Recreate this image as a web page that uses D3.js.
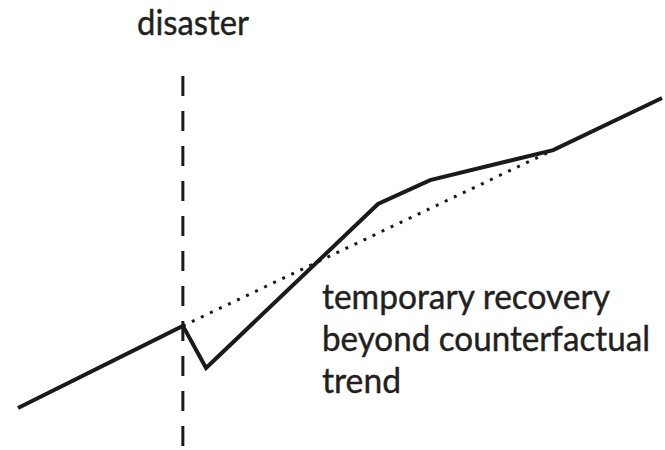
<!DOCTYPE html>
<html>
<head>
<meta charset="utf-8">
<script src="https://cdn.jsdelivr.net/npm/d3@7"></script>
<style>
  html, body { margin: 0; padding: 0; background: #fff; }
  svg { display: block; }
  text { font-family: Lato, "Open Sans", sans-serif; fill: #231f20; stroke: #231f20; stroke-width: 0.4px; }
</style>
</head>
<body>
<script>
// ---- data (abstract time / output units) ----
const actualTime   = [0, 25.6, 29.2, 55.9, 64.0, 83.1, 100];
const actualValue  = [0, 26.5, 12.9, 65.8, 73.5, 83.2, 100];
const trendTime    = [25.6, 83.1];
const trendValue   = [26.5, 83.2];
const disasterTime = 25.6;
const disasterLabel = ["disaster"];
const noteLines = ["temporary recovery", "beyond counterfactual", "trend"];

const W = 665, H = 450;
const svg = d3.select("body").append("svg").attr("width", W).attr("height", H);

const x = d3.scaleLinear().domain([0, 100]).range([18, 662]);
const y = d3.scaleLinear().domain([0, 100]).range([408, 98]);

const line = d3.line().x(d => x(d[0])).y(d => y(d[1]));

// vertical dashed disaster line
svg.append("line")
  .attr("x1", x(disasterTime)).attr("x2", x(disasterTime))
  .attr("y1", 76).attr("y2", H)
  .attr("stroke", "#1a1a1a").attr("stroke-width", 3)
  .attr("stroke-dasharray", "20,15");

// counterfactual trend (dotted)
svg.append("path")
  .attr("d", line(trendTime.map((t, i) => [t, trendValue[i]])))
  .attr("fill", "none").attr("stroke", "#1a1a1a")
  .attr("stroke-width", 3).attr("stroke-dasharray", "3,7");

// actual path (solid)
svg.append("path")
  .attr("d", line(actualTime.map((t, i) => [t, actualValue[i]])))
  .attr("fill", "none").attr("stroke", "#1a1a1a")
  .attr("stroke-width", 4).attr("stroke-linejoin", "miter");

// labels
svg.append("text")
  .attr("x", 137).attr("y", 35)
  .attr("font-size", 35)
  .attr("textLength", 112).attr("lengthAdjust", "spacingAndGlyphs")
  .text(disasterLabel[0]);

const noteWidths = [288, 328, 79];
noteLines.forEach((s, i) => {
  svg.append("text")
    .attr("x", 322).attr("y", 309 + i * 42)
    .attr("font-size", 34)
    .attr("textLength", noteWidths[i]).attr("lengthAdjust", "spacingAndGlyphs")
    .text(s);
});
</script>
</body>
</html>
